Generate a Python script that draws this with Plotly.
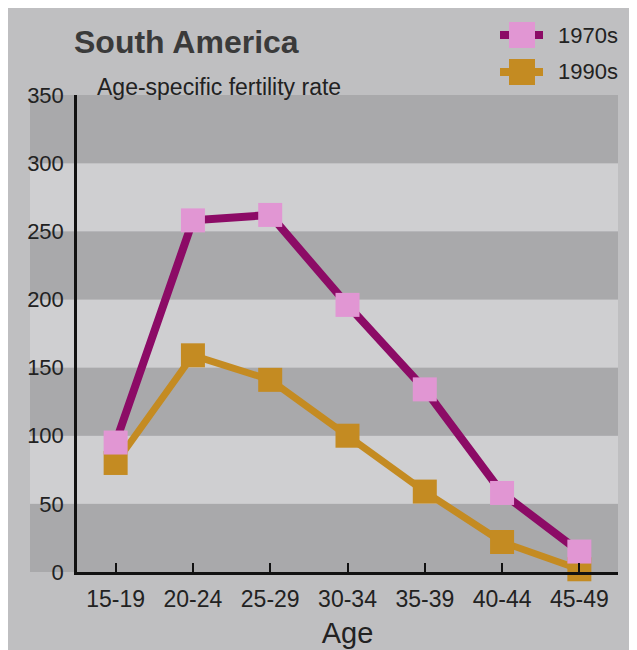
import plotly.graph_objects as go

# ---- data ----
age_groups = ["15-19", "20-24", "25-29", "30-34", "35-39", "40-44", "45-49"]
rate_1970s = [95, 258, 262, 196, 134, 58, 15]
rate_1990s = [80, 159, 141, 100, 59, 22, 2]
series_names = ["1970s", "1990s"]
y_ticks = [0, 50, 100, 150, 200, 250, 300, 350]

# page is drawn with an 8px body margin
OFF = 8
PAGE_W, PAGE_H = 637, 650
W, H = PAGE_W - OFF, PAGE_H - OFF
PLOT_L, PLOT_R, PLOT_T, PLOT_B = 77, 618, 95, 572  # page pixels
L, R, T, B = PLOT_L - OFF, PAGE_W - PLOT_R, PLOT_T - OFF, PAGE_H - PLOT_B
PW, PH = PLOT_R - PLOT_L, PLOT_B - PLOT_T

def px_x(p):
    return (p - PLOT_L) / PW

def px_y(p):
    return (PLOT_B - p) / PH

LINE_C = ["#8c0b66", "#c48b22"]
MARK_C = ["#e196d3", "#c48b22"]
BG = "#bfbfc1"
DARK = "#a9a9ab"
LIGHT = "#cfcfd1"
TXT = "#222222"
FONT = "Liberation Sans, Arial, sans-serif"

fig = go.Figure()

for name, vals, lc, mc, lw in [(series_names[1], rate_1990s, LINE_C[1], MARK_C[1], 7),
                               (series_names[0], rate_1970s, LINE_C[0], MARK_C[0], 8)]:
    fig.add_trace(go.Scatter(
        x=age_groups, y=vals, name=name, mode="lines+markers",
        line=dict(color=lc, width=lw),
        marker=dict(symbol="square", size=24, color=mc, line=dict(width=0)),
        showlegend=False, cliponaxis=False,
    ))

shapes = []
for i in range(len(y_ticks) - 1):
    shapes.append(dict(
        type="rect", xref="paper", yref="y", x0=px_x(30), x1=1.0,
        y0=y_ticks[i], y1=y_ticks[i + 1],
        fillcolor=DARK if i % 2 == 0 else LIGHT, line=dict(width=0), layer="below",
    ))
# light right edge of the scanned page
shapes.append(dict(type="rect", xref="paper", yref="paper", x0=px_x(630), x1=px_x(PAGE_W + 2),
                   y0=px_y(PAGE_H + 2), y1=px_y(0), fillcolor="#dedede", line=dict(width=0), layer="below"))

annotations = []
for k, (yy, name) in enumerate([(35, series_names[0]), (72, series_names[1])]):
    shapes.append(dict(type="line", xref="paper", yref="paper",
                       x0=px_x(500), x1=px_x(543), y0=px_y(yy), y1=px_y(yy),
                       line=dict(color=LINE_C[k], width=8)))
    shapes.append(dict(type="rect", xref="paper", yref="paper",
                       x0=px_x(509), x1=px_x(535), y0=px_y(yy + 13), y1=px_y(yy - 13),
                       fillcolor=MARK_C[k], line=dict(width=0)))
    annotations.append(dict(text=name, xref="paper", yref="paper", x=px_x(556), y=px_y(yy),
                            xanchor="left", yanchor="middle", showarrow=False,
                            font=dict(family=FONT, size=22, color=TXT)))

annotations.append(dict(text="<b>South America</b>", xref="paper", yref="paper",
                        x=px_x(72), y=px_y(42), xanchor="left", yanchor="middle", showarrow=False,
                        font=dict(family=FONT, size=32, color="#3a3a3a")))
annotations.append(dict(text="Age-specific fertility rate", xref="paper", yref="paper",
                        x=px_x(95), y=px_y(87), xanchor="left", yanchor="middle", showarrow=False,
                        font=dict(family=FONT, size=23, color=TXT)))

fig.update_layout(
    width=W, height=H,
    margin=dict(l=L, r=R, t=T, b=B, pad=0, autoexpand=False),
    paper_bgcolor=BG, plot_bgcolor="rgba(0,0,0,0)",
    shapes=shapes, annotations=annotations,
    xaxis=dict(
        type="category", range=[-0.5, 6.5], showgrid=False, zeroline=False,
        showline=True, linecolor="#111111", linewidth=2.5, automargin=False,
        ticks="inside", ticklen=9, tickwidth=2, tickcolor="#111111",
        tickfont=dict(family=FONT, size=23, color=TXT), ticklabelstandoff=5,
        title=dict(text="Age", font=dict(family=FONT, size=29, color=TXT), standoff=12),
    ),
    yaxis=dict(
        range=[0, 350], tickvals=y_ticks, showgrid=False, zeroline=False, automargin=False,
        showline=True, linecolor="#111111", linewidth=2.5, ticks="",
        tickfont=dict(family=FONT, size=22, color=TXT), ticklabelstandoff=6,
    ),
)

fig.write_html("out.html")
